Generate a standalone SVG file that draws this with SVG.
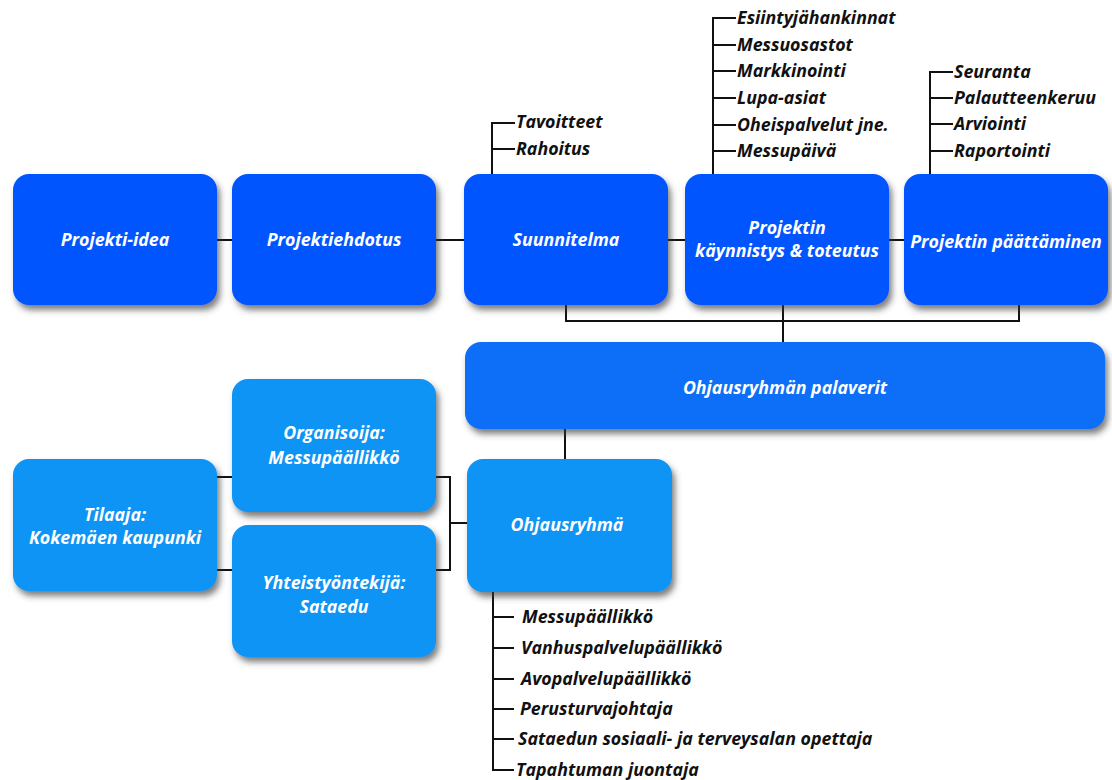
<svg xmlns="http://www.w3.org/2000/svg" width="1112" height="780" viewBox="0 0 1112 780">
<defs>
<filter id="sh" x="-10%" y="-10%" width="125%" height="130%">
<feDropShadow dx="3" dy="5" stdDeviation="3" flood-color="#3a3a3a" flood-opacity="0.65"/>
</filter>
<style>
.box{filter:url(#sh);rx:16px;ry:16px}
.b1{fill:#0055ff}
.b2{fill:#0a6ef8}
.b3{fill:#0a94f5}
.t{font-family:"Open Sans",Lato,sans-serif;font-weight:bold;font-style:italic;font-size:17.8px;fill:#fff;text-anchor:middle}
.l{font-family:"Open Sans",Lato,sans-serif;font-weight:bold;font-style:italic;font-size:17.8px;fill:#111}
.c{stroke:#111;stroke-width:2;fill:none}
</style>
</defs>
<rect width="1112" height="780" fill="#fff"/>
<g id="connectors">
<path class="c" d="M217 240H232M436 240H464M668 240H685M889 240H904"/>
<path class="c" d="M566 305V321H1019V305M783 305V342"/>
<path class="c" d="M565 429V459"/>
<path class="c" d="M217 477H232M217 570H232M436 477H450V570H436M450 523H467"/>
<path class="c" d="M492 174V123H515M492 149H515"/>
<path class="c" d="M713 174V18H736M713 45H736M713 71H736M713 98H736M713 125H736M713 151H736"/>
<path class="c" d="M930 174V72H953M930 98H953M930 124H953M930 151H953"/>
<path class="c" d="M493 592V770H514M493 617H514M493 648H514M493 679H514M493 709H514M493 739H514"/>
</g>
<g id="n-projekti-idea"><rect class="box b1" x="13" y="174" width="204" height="131"/><text class="t" x="115" y="246">Projekti-idea</text></g>
<g id="n-projektiehdotus"><rect class="box b1" x="232" y="174" width="204" height="131"/><text class="t" x="334" y="246">Projektiehdotus</text></g>
<g id="n-suunnitelma"><rect class="box b1" x="464" y="174" width="204" height="131"/><text class="t" x="566" y="246">Suunnitelma</text></g>
<g id="n-kaynnistys"><rect class="box b1" x="685" y="174" width="204" height="131"/><text class="t" x="787" y="234">Projektin</text><text class="t" x="787" y="257">käynnistys &amp; toteutus</text></g>
<g id="n-paattaminen"><rect class="box b1" x="904" y="174" width="204" height="131"/><text class="t" x="1006" y="248">Projektin päättäminen</text></g>
<g id="n-palaverit"><rect class="box b2" x="465" y="342" width="640" height="87"/><text class="t" x="785" y="394">Ohjausryhmän palaverit</text></g>
<g id="n-ohjausryhma"><rect class="box b3" x="467" y="459" width="205" height="133"/><text class="t" x="567" y="531">Ohjausryhmä</text></g>
<g id="n-tilaaja"><rect class="box b3" x="13" y="459" width="204" height="132"/><text class="t" x="115" y="521">Tilaaja:</text><text class="t" x="115" y="544">Kokemäen kaupunki</text></g>
<g id="n-organisoija"><rect class="box b3" x="232" y="379" width="204" height="133"/><text class="t" x="334" y="439">Organisoija:</text><text class="t" x="334" y="464">Messupäällikkö</text></g>
<g id="n-yhteistyo"><rect class="box b3" x="232" y="525" width="204" height="132"/><text class="t" x="334" y="589">Yhteistyöntekijä:</text><text class="t" x="334" y="613">Sataedu</text></g>
<g id="labels">
<text class="l" x="516" y="128">Tavoitteet</text>
<text class="l" x="516" y="155">Rahoitus</text>
<text class="l" x="737" y="24">Esiintyjähankinnat</text>
<text class="l" x="737" y="51">Messuosastot</text>
<text class="l" x="737" y="77">Markkinointi</text>
<text class="l" x="737" y="104">Lupa-asiat</text>
<text class="l" x="737" y="131">Oheispalvelut jne.</text>
<text class="l" x="737" y="157">Messupäivä</text>
<text class="l" x="954" y="78">Seuranta</text>
<text class="l" x="954" y="104">Palautteenkeruu</text>
<text class="l" x="954" y="130">Arviointi</text>
<text class="l" x="954" y="157">Raportointi</text>
<text class="l" x="522" y="623">Messupäällikkö</text>
<text class="l" x="521" y="654">Vanhuspalvelupäällikkö</text>
<text class="l" x="521" y="685">Avopalvelupäällikkö</text>
<text class="l" x="520" y="715">Perusturvajohtaja</text>
<text class="l" x="518" y="745">Sataedun sosiaali- ja terveysalan opettaja</text>
<text class="l" x="516" y="776">Tapahtuman juontaja</text>
</g>
</svg>
